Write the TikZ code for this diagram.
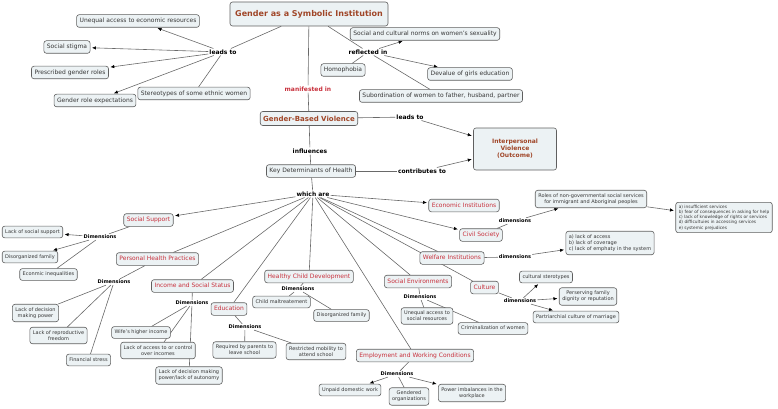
\documentclass[tikz,border=0pt]{standalone}
\usepackage{fontspec}
\setmainfont{DejaVu Sans}
\usetikzlibrary{arrows.meta,backgrounds}

\definecolor{cfill}{RGB}{236,242,244}
\definecolor{cline}{RGB}{95,95,95}
\definecolor{ctext}{RGB}{55,55,55}
\definecolor{dred}{RGB}{200,48,60}
\definecolor{cbrown}{RGB}{160,70,40}
\definecolor{wire}{RGB}{105,105,105}

\begin{document}
\begin{tikzpicture}[x=1pt, y=-1pt,
  >={Latex[length=4pt,width=3.4pt,color=black]},
  box/.style={draw=cline, fill=cfill, rounded corners=2.5pt, line width=0.6pt, align=center, inner xsep=3pt, inner ysep=3.3pt, text=ctext},
  concept/.style={box, font=\fontsize{6}{7}\selectfont, text height=4.6pt, text depth=1.4pt},
  determ/.style={concept, text=dred},
  core/.style={box, text=cbrown, font=\bfseries\fontsize{7}{8}\selectfont},
  leaf/.style={box, font=\fontsize{5}{6}\selectfont, text height=3.9pt, text depth=1.2pt},
  leafii/.style={box, font=\fontsize{5}{6}\selectfont},
  lnk/.style={font=\bfseries\fontsize{6}{7}\selectfont, inner sep=1pt},
  dimlab/.style={font=\bfseries\fontsize{5}{6}\selectfont, inner sep=1pt},
  con/.style={draw=wire, line width=0.6pt},
  arr/.style={con, ->, shorten >=1.5pt},
]
\useasboundingbox (0,0) rectangle (778,409);

% symbolic institution and its links (top)
\node[core, font=\bfseries\fontsize{8}{9}\selectfont, minimum width=158pt, minimum height=24pt] (gsi) at (309,14) {Gender as a Symbolic Institution};
\node[lnk] (lt1) at (223,52) {leads to};
\node[concept] (unequal) at (138,21) {Unequal access to economic resources};
\node[concept] (stigma) at (67,47) {Social stigma};
\node[concept] (prescr) at (70,72.5) {Prescribed gender roles};
\node[concept] (expect) at (95,100.5) {Gender role expectations};
\node[concept] (stereo) at (194,93.5) {Stereotypes of some ethnic women};
\node[lnk] (refl) at (368,52) {reflected in};
\node[concept] (norms) at (425,34) {Social and cultural norms on women's sexuality};
\node[concept] (homo) at (343,70) {Homophobia};
\node[concept] (deval) at (470,74) {Devalue of girls education};
\node[concept] (subord) at (441,96) {Subordination of women to father, husband, partner};
\node[lnk, text=dred] (manif) at (308,89) {manifested in};

% violence and determinants (middle)
\node[core, minimum height=14pt] (gbv) at (309,118.5) {Gender-Based Violence};
\node[lnk] (lt2) at (410,117) {leads to};
\node[core, font=\bfseries\fontsize{6}{7}\selectfont, minimum width=83pt, minimum height=42pt] (ipv) at (515,149) {Interpersonal\\ Violence\\ (Outcome)};
\node[lnk] (infl) at (310,151) {influences};
\node[concept] (kdh) at (311,171) {Key Determinants of Health};
\node[lnk] (contr) at (422,171) {contributes to};
\node[lnk] (which) at (313,194) {which are};

% the determinants
\node[determ] (ss) at (148.5,220) {Social Support};
\node[determ] (php) at (157.5,259) {Personal Health Practices};
\node[determ] (iss) at (192.5,286) {Income and Social Status};
\node[determ] (edu) at (229,309) {Education};
\node[determ] (hcd) at (309,276.5) {Healthy Child Development};
\node[determ] (ewc) at (415,355.5) {Employment and Working Conditions};
\node[determ] (se) at (418,281.5) {Social Environments};
\node[determ] (cul) at (484.5,287.5) {Culture};
\node[determ] (wi) at (452,258) {Welfare Institutions};
\node[determ] (cs) at (481,235) {Civil Society};
\node[determ] (ei) at (464,205.5) {Economic Institutions};

% dimensions
\node[dimlab] (dss) at (100,237) {Dimensions};
\node[leaf] (lss) at (32.5,232) {Lack of social support};
\node[leaf] (dfam1) at (30,257) {Disorganized family};
\node[leaf] (econ) at (48.5,274.5) {Econmic inequalities};

\node[dimlab] (dphp) at (114,282) {Dimensions};
\node[leafii] (ldec) at (35.5,313) {Lack of decision\\ making power};
\node[leafii] (lrep) at (58.5,335.5) {Lack of reproductive\\ freedom};
\node[leaf] (fin) at (88.5,360) {Financial stress};

\node[dimlab] (diss) at (192,303) {Dimensions};
\node[leaf] (wife) at (141,332.5) {Wife's higher income};
\node[leafii] (lacc) at (158,350.5) {Lack of access to or control\\ over incomes};
\node[leafii] (laut) at (189,375.5) {Lack of decision making\\ power/lack of autonomy};

\node[dimlab] (dedu) at (245,327) {Dimensions};
\node[leafii] (req) at (244.5,350) {Required by parents to\\ leave school};
\node[leafii] (restr) at (316,351.5) {Restricted mobility to\\ attend school};

\node[dimlab] (dhcd) at (298,289) {Dimensions};
\node[leaf] (child) at (281.5,302) {Child maltreatement};
\node[leaf] (dfam2) at (341.5,315.5) {Disorganized family};

\node[dimlab] (dewc) at (397,374) {Dimensions};
\node[leaf] (unpaid) at (350,390) {Unpaid domestic work};
\node[leafii] (gend) at (409,396.5) {Gendered\\ organizations};
\node[leafii] (power) at (472,393) {Power imbalances in the\\ workplace};

\node[dimlab] (dse) at (420,297) {Dimensions};
\node[leafii] (usr) at (427,316) {Unequal access to\\ social resources};
\node[leaf] (crim) at (493,328.5) {Criminalization of women};

\node[dimlab] (dcul) at (520,301) {dimensions};
\node[leaf] (cster) at (546,277) {cultural sterotypes};
\node[leafii] (pers) at (588,296.5) {Perserving family\\ dignity or reputation};
\node[leaf] (patr) at (576,317) {Partriarchial culture of marriage};

\node[dimlab] (dwi) at (515,257) {dimensions};
\node[leafii, align=left] (wlist) at (610,243) {a) lack of access\\ b) lack of coverage\\ c) lack of emphaty in the system};

\node[dimlab] (dcs) at (515,221) {dimensions};
\node[leafii] (roles) at (591,199) {Roles of non-governmental social services\\ for immigrant and Aboriginal peoples};
\node[box, align=left, font=\fontsize{4.3}{5.3}\selectfont, inner ysep=2.5pt] (clist) at (724,217.5) {a) insufficient services\\ b) fear of consequences in asking for help\\ c) lack of knowledge of rights or services\\ d) difficultuies in accessing services\\ e) systemic prejudices};

% connectors
\begin{scope}[on background layer]
\draw[con] (gsi) -- (lt1);
\foreach \t in {unequal,stigma,prescr,expect} { \draw[arr] (lt1) -- (\t); }
\draw[con] (lt1) -- (stereo);
\draw[con] (gsi) -- (refl);
\foreach \t in {norms,deval} { \draw[arr] (refl) -- (\t); }
\foreach \t in {homo,subord} { \draw[con] (refl) -- (\t); }
\draw[con] (gsi) -- (manif) -- (gbv);
\draw[con] (gbv) -- (lt2);
\draw[arr] (lt2) -- (ipv);
\draw[con] (gbv) -- (infl) -- (kdh);
\draw[con] (kdh) -- (contr);
\draw[arr] (contr) -- (ipv);
\draw[con] (kdh) -- (which);

\foreach \t in {ss,cs,ei} { \draw[arr] (which) -- (\t); }
\foreach \t in {php,iss,edu,hcd,ewc,se,cul,wi} { \draw[con] (which) -- (\t); }

\foreach \c/\d in {ss/dss,php/dphp,iss/diss,edu/dedu,hcd/dhcd,ewc/dewc,se/dse,cul/dcul,wi/dwi,cs/dcs} { \draw[con] (\c) -- (\d); }

\foreach \t in {lss,dfam1} { \draw[arr] (dss) -- (\t); }
\draw[con] (dss) -- (econ);
\foreach \t in {ldec,lrep,fin} { \draw[con] (dphp) -- (\t); }
\foreach \t in {wife,lacc,laut} { \draw[con] (diss) -- (\t); }
\foreach \t in {req,restr} { \draw[con] (dedu) -- (\t); }
\foreach \t in {child,dfam2} { \draw[con] (dhcd) -- (\t); }
\foreach \t in {unpaid,power} { \draw[arr] (dewc) -- (\t); }
\draw[con] (dewc) -- (gend);
\foreach \t in {usr,crim} { \draw[con] (dse) -- (\t); }
\foreach \t in {cster,pers,patr} { \draw[arr] (dcul) -- (\t); }
\draw[arr] (dwi) -- (wlist);
\draw[arr] (dcs) -- (roles);
\draw[arr] (roles) -- (clist);
\end{scope}
\end{tikzpicture}
\end{document}
